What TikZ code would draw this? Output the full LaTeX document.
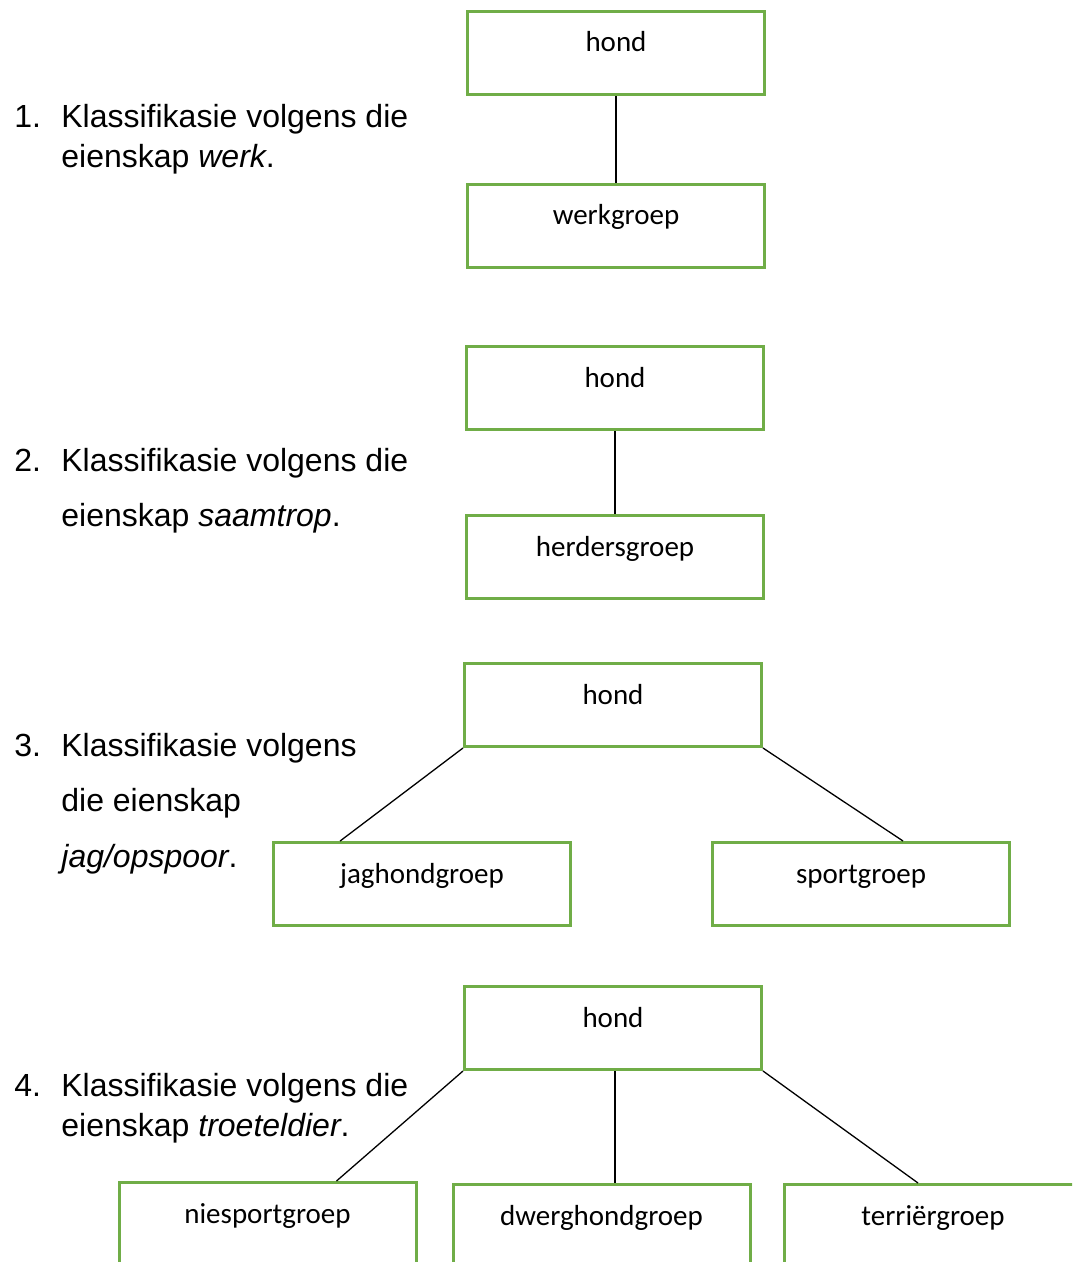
\documentclass[tikz,border=0pt]{standalone}
\usepackage{fontspec}
\setmainfont{Liberation Sans}
\newfontfamily\boxfont{Carlito}
\usetikzlibrary{calc,positioning}
\definecolor{boxgreen}{HTML}{70AD47}

\begin{document}
\begin{tikzpicture}[x=0.5pt,y=-0.5pt,
  box/.style={draw=boxgreen,line width=1.5pt,minimum width=148.5pt,inner xsep=0pt,inner ysep=0pt,
    text height=20.25pt,text depth=21.25pt,font=\boxfont\fontsize{14.5}{17}\selectfont},
  item/.style={anchor=base west,inner sep=0pt,font=\fontsize{16}{19}\selectfont},
  link/.style={line width=0.65pt}]
  \useasboundingbox (0,0) rectangle (1072,1262);
  \clip (0,0) rectangle (1072,1262);

  % 1. werk
  \node[item] (n1) at (14,128) {1.};
  \node[item] (t1a) at (61,128) {Klassifikasie volgens die};
  \node[item] (t1b) at (61,168) {eienskap \textit{werk}.};
  \node[box] (h1) at (616,53) {hond};
  \node[box] (w1) at (616,226) {werkgroep};
  \draw[link] (h1) -- (w1);

  % 2. saamtrop
  \node[item] (n2) at (14,471) {2.};
  \node[item] (t2a) at (61,471) {Klassifikasie volgens die};
  \node[item] (t2b) at (61,526) {eienskap \textit{saamtrop}.};
  \node[box] (h2) at (615,388) {hond};
  \node[box] (g2) at (615,557) {herdersgroep};
  \draw[link] (h2) -- (g2);

  % 3. jag/opspoor
  \node[item] (n3) at (14,756) {3.};
  \node[item] (t3a) at (61,756) {Klassifikasie volgens};
  \node[item] (t3b) at (61,811) {die eienskap};
  \node[item] (t3c) at (61,867) {\textit{jag/opspoor}.};
  \node[box] (h3) at (613,705) {hond};
  \node[box] (j3) at (422,884) {jaghondgroep};
  \node[box] (s3) at (861,884) {sportgroep};
  \draw[link] (h3.south west) -- ($(j3.north west)!0.227!(j3.north east)$);
  \draw[link] (h3.south east) -- ($(s3.north west)!0.64!(s3.north east)$);

  % 4. troeteldier
  \node[item] (n4) at (14,1096) {4.};
  \node[item] (t4a) at (61,1096) {Klassifikasie volgens die};
  \node[item] (t4b) at (61,1136) {eienskap \textit{troeteldier}.};
  \node[box] (h4) at (613,1028) {hond};
  \node[box] (p4) at (267.5,1224) {niesportgroep};
  \node[box] (d4) at (601.5,1226) {dwerghondgroep};
  \node[box] (r4) at (933,1226) {terriërgroep};
  \draw[link] (h4.south west) -- ($(p4.north west)!0.73!(p4.north east)$);
  \draw[link] ([xshift=1pt]h4.south) -- ([xshift=1pt]h4.south |- d4.north);
  \draw[link] (h4.south east) -- ($(r4.north west)!0.45!(r4.north east)$);
\end{tikzpicture}
\end{document}
